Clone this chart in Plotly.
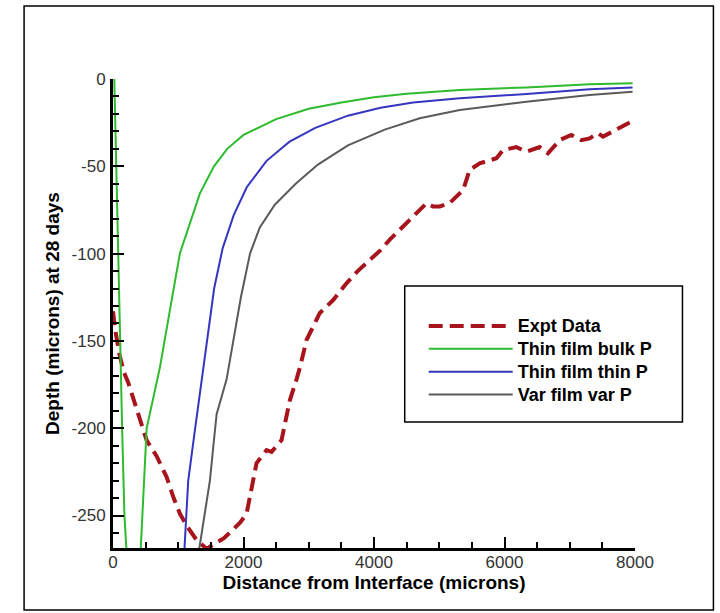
import plotly.graph_objects as go

# ---------------- data ----------------
expt_x = [0, 40, 100, 168, 235, 337, 420, 516, 669, 822, 930, 1026, 1150, 1281, 1435, 1520,
          1588, 1700, 1842, 1950, 2047, 2120, 2200, 2353, 2430, 2583, 2650, 2710, 2813, 2866,
          2966, 3170, 3374, 3579, 3750, 3936, 4100, 4242, 4400, 4548, 4700, 4804, 4906, 5008,
          5161, 5300, 5365, 5467, 5620, 5876, 5977, 6182, 6335, 6539, 6666, 6845, 7024, 7177,
          7305, 7432, 7509, 7662, 7815, 7968]
expt_y = [-133, -145, -158, -168, -174, -186, -197, -207, -216, -228, -240, -249, -257, -264,
          -269, -267, -266, -263, -258, -254, -249, -236, -220, -212.5, -213.5, -206.8, -196,
          -184, -172, -165, -149.5, -134, -126.6, -117, -110, -103.7, -98, -92, -86, -80.8, -75,
          -71.2, -73, -73, -71, -66, -63.6, -52, -48.3, -45.4, -40.7, -39, -41.6, -39, -42.6,
          -35, -32, -35, -34, -31, -33, -30, -27.3, -24]

bulk_x = [20, 40, 60, 85, 110, 140, 175, 205, 300, 380, 425, 516, 720, 899, 1026, 1332, 1547,
          1750, 2000, 2500, 3000, 3500, 4000, 4500, 5000, 5314, 6335, 7305, 7963]
bulk_y = [0, -30, -60, -100, -150, -200, -250, -269, -330, -330, -269, -200, -165, -126.6,
          -99.8, -65.5, -50, -40, -32, -23, -17, -13.5, -10.5, -8.5, -7, -6.3, -4.8, -3.0, -2.5]

thin_x = [1095, 1153, 1256, 1358, 1440, 1550, 1680, 1850, 2050, 2350, 2700, 3100, 3600, 4100,
          4600, 5314, 6335, 7305, 7963]
thin_y = [-269, -230, -201, -172, -150, -120, -97, -78, -62, -47, -36, -28, -21, -16.5, -13.5,
          -11, -8.6, -5.9, -4.8]

var_x = [1322, 1409, 1485, 1536, 1588, 1741, 1840, 1960, 2100, 2250, 2480, 2800, 3140, 3600,
         4165, 4700, 5314, 6335, 7305, 7963]
var_y = [-269, -249, -230, -211, -192, -172, -150, -125, -100, -85, -72, -60, -49, -38, -29,
         -22.5, -17.8, -13, -9.2, -7.3]

series_names = ["Expt Data", "Thin film bulk P", "Thin film thin P", "Var film var P"]

x_tickvals = [0, 2000, 4000, 6000, 8000]
x_ticktext = ["0", "2000", "4000", "6000", "8000"]
y_tickvals = [0, -50, -100, -150, -200, -250]
y_ticktext = ["0", "-50", "-100", "-150", "-200", "-250"]


def legend_name(s):
    # rendered at 18px while the legend row height follows the smaller legend font size
    return '<span style="font-size:18px">' + s + '</span>'


# ---------------- figure ----------------
fig = go.Figure()
fig.add_trace(go.Scatter(x=expt_x, y=expt_y, mode="lines", name=legend_name(series_names[0]),
                         line=dict(color="#A8141C", width=4, dash="14px,7px")))
fig.add_trace(go.Scatter(x=bulk_x, y=bulk_y, mode="lines", name=legend_name(series_names[1]),
                         line=dict(color="#2EBB2E", width=2)))
fig.add_trace(go.Scatter(x=thin_x, y=thin_y, mode="lines", name=legend_name(series_names[2]),
                         line=dict(color="#3535C0", width=2)))
fig.add_trace(go.Scatter(x=var_x, y=var_y, mode="lines", name=legend_name(series_names[3]),
                         line=dict(color="#5A5A5A", width=2)))

L, R, T, B = 113, 84.5, 79, 65
W, H = 720, 613
pw, ph = W - L - R, H - T - B


def px2paper_x(px):
    return (px - L) / pw


def px2paper_y(py):
    return (H - B - py) / ph


axis_font = dict(family="Liberation Sans, Arial, sans-serif", size=17, color="#333333")
title_font = dict(family="Liberation Sans, Arial, sans-serif", size=19, color="black")

fig.update_layout(
    width=W, height=H,
    margin=dict(l=L, r=R, t=T, b=B, pad=0),
    paper_bgcolor="white", plot_bgcolor="white",
    showlegend=True,
    legend=dict(
        x=px2paper_x(424), y=px2paper_y(309.5), xanchor="left", yanchor="top",
        bgcolor="rgba(0,0,0,0)", borderwidth=0, itemwidth=84,
        font=dict(family="Liberation Sans, Arial, sans-serif", size=15.3, color="black",
                  weight="bold"),
        tracegroupgap=0,
    ),
    xaxis=dict(
        range=[0, 8000], showgrid=False, zeroline=False,
        showline=True, linecolor="black", linewidth=3,
        ticks="inside", ticklen=11, tickwidth=2, tickcolor="black",
        tickvals=x_tickvals, ticktext=x_ticktext, tickfont=axis_font,
        ticklabelstandoff=-3,
        minor=dict(ticks="inside", ticklen=6, tickwidth=2, tickcolor="black", dtick=500,
                   tick0=0, showgrid=False),
        title=dict(text="<b>Distance from Interface (microns)</b>", font=title_font, standoff=4),
    ),
    yaxis=dict(
        range=[-268.6, 0], showgrid=False, zeroline=False,
        showline=True, linecolor="black", linewidth=3,
        ticks="inside", ticklen=11, tickwidth=2, tickcolor="black",
        tickvals=y_tickvals, ticktext=y_ticktext, tickfont=axis_font,
        ticklabelstandoff=1,
        minor=dict(ticks="inside", ticklen=6, tickwidth=2, tickcolor="black", dtick=10,
                   tick0=0, showgrid=False),
        title=dict(text="<b>Depth (microns) at 28 days</b>", font=title_font, standoff=7),
    ),
    shapes=[
        # outer frame
        dict(type="rect", xref="paper", yref="paper",
             x0=px2paper_x(24), x1=px2paper_x(714), y0=px2paper_y(610), y1=px2paper_y(6),
             line=dict(color="black", width=1.5), fillcolor="rgba(0,0,0,0)", layer="below"),
        # legend box
        dict(type="rect", xref="paper", yref="paper",
             x0=px2paper_x(405), x1=px2paper_x(683), y0=px2paper_y(422), y1=px2paper_y(286),
             line=dict(color="black", width=1.5), fillcolor="white", layer="above"),
    ],
)

fig.write_html(
    "out.html",
    config={"displayModeBar": False},
    post_script="document.body.style.margin='0';document.body.style.overflow='hidden';",
)
